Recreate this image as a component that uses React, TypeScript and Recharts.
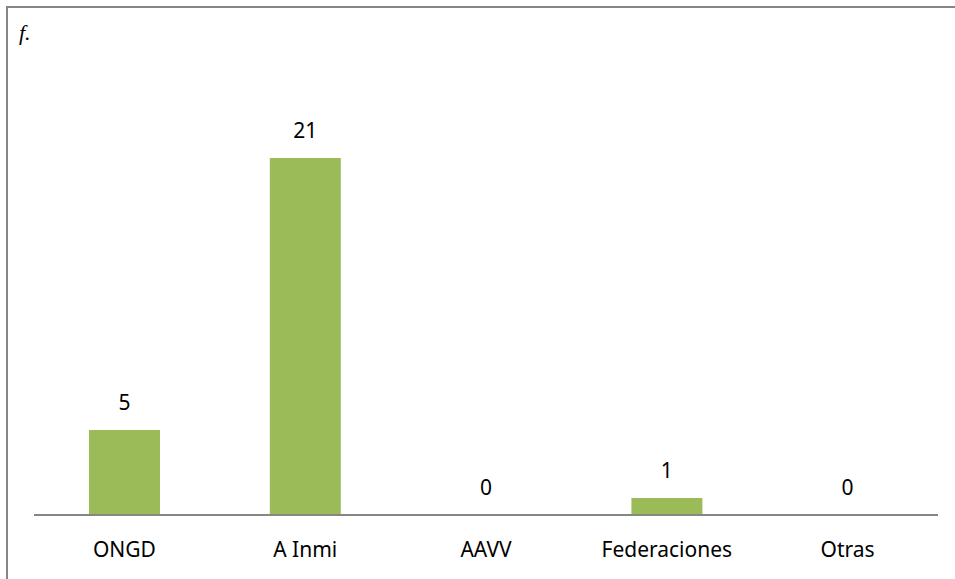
import { ComposedChart, Bar, Line, XAxis, YAxis, LabelList } from "recharts";

const categories = ["ONGD", "A Inmi", "AAVV", "Federaciones", "Otras"];
const counts = [5, 21, 0, 1, 0];

const data = categories.map((name, i) => ({ name, value: counts[i] }));

const FONT = "'Noto Sans', sans-serif";

export default function App() {
  return (
    <div style={{ position: "absolute", left: 0, top: 0, width: 955, height: 579, overflow: "hidden", background: "#fff" }}>
      <div
        style={{
          position: "absolute",
          left: 6,
          top: 6,
          width: 1000,
          height: 1000,
          borderTop: "2px solid #868686",
          borderLeft: "2px solid #868686",
        }}
      />
      <span
        style={{
          position: "absolute",
          left: 19,
          top: 20,
          fontFamily: "'Liberation Serif', serif",
          fontStyle: "italic",
          fontSize: 22,
        }}
      >
        f.
      </span>
      <ComposedChart
        width={955}
        height={579}
        data={data}
        margin={{ top: 107, right: 17, left: 34, bottom: 0 }}
        style={{ position: "absolute", left: 0, top: 0 }}
      >
        <YAxis hide domain={[0, 24]} />
        <XAxis
          dataKey="name"
          height={64}
          tickLine={false}
          axisLine={{ stroke: "#868686", strokeWidth: 2 }}
          tick={{ fill: "#000", fontSize: 21, fontFamily: FONT }}
          tickMargin={21}
        />
        <Bar dataKey="value" fill="#9BBB59" barSize={71} isAnimationActive={false} />
        {/* invisible line just to carry the value labels (zero bars included) */}
        <Line dataKey="value" stroke="none" dot={false} activeDot={false} isAnimationActive={false}>
          <LabelList
            dataKey="value"
            position="top"
            offset={20}
            style={{ fill: "#000", fontSize: 21, fontFamily: FONT }}
          />
        </Line>
      </ComposedChart>
    </div>
  );
}
